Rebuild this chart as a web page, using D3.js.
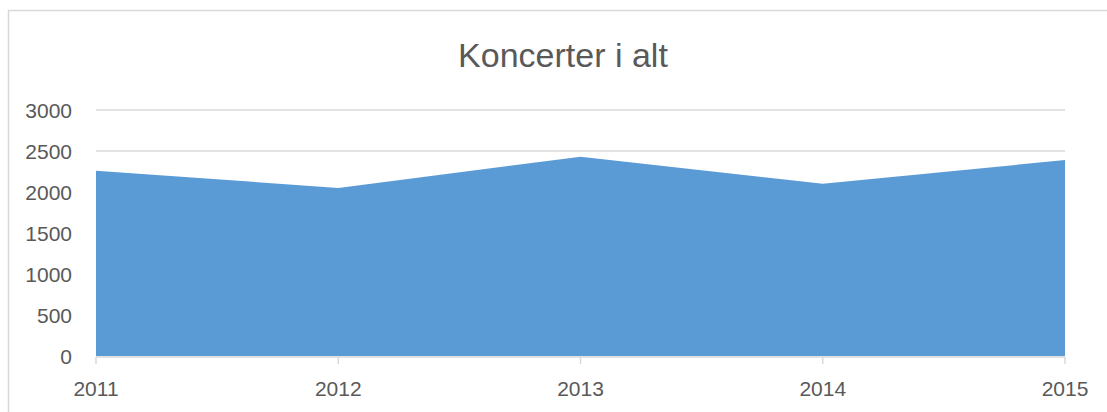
<!DOCTYPE html>
<html>
<head>
<meta charset="utf-8">
<script src="https://cdn.jsdelivr.net/npm/d3@7"></script>
<style>
  body { margin: 0; background: #fff; }
  svg { display: block; font-family: "Liberation Sans", Arial, sans-serif; }
</style>
</head>
<body>
<div id="chart"></div>
<script>
// data
var years = ["2011", "2012", "2013", "2014", "2015"];
var koncerter = [2260, 2050, 2430, 2100, 2390];
var yTicks = [0, 500, 1000, 1500, 2000, 2500, 3000];
var title = "Koncerter i alt";

var data = years.map(function(y, i) { return { year: y, value: koncerter[i] }; });

var width = 1107, height = 412;
var margin = { top: 110, right: 42, bottom: 56, left: 96 };

var svg = d3.select("#chart")
  .append("svg")
  .attr("width", width)
  .attr("height", height);

// chart frame
svg.append("rect")
  .attr("x", 8.5).attr("y", 10.5)
  .attr("width", width + 10).attr("height", height + 10)
  .attr("fill", "none")
  .attr("stroke", "#d9d9d9")
  .attr("stroke-width", 1.5);

var x = d3.scalePoint()
  .domain(years)
  .range([margin.left, width - margin.right]);

var y = d3.scaleLinear()
  .domain([0, 3000])
  .range([height - margin.bottom, margin.top]);

// gridlines
svg.append("g")
  .selectAll("line")
  .data(yTicks.filter(function(d) { return d > 0; }))
  .join("line")
  .attr("x1", margin.left)
  .attr("x2", width - margin.right)
  .attr("y1", function(d) { return y(d); })
  .attr("y2", function(d) { return y(d); })
  .attr("stroke", "#d9d9d9")
  .attr("stroke-width", 1.5);

// area
var area = d3.area()
  .x(function(d) { return x(d.year); })
  .y0(y(0))
  .y1(function(d) { return y(d.value); });

svg.append("path")
  .datum(data)
  .attr("fill", "#5b9bd5")
  .attr("d", area);

// x axis line + ticks
svg.append("line")
  .attr("x1", margin.left).attr("x2", width - margin.right)
  .attr("y1", y(0) + 1).attr("y2", y(0) + 1)
  .attr("stroke", "#d9d9d9").attr("stroke-width", 1.5);

svg.append("g")
  .selectAll("line")
  .data(years)
  .join("line")
  .attr("x1", function(d) { return x(d); })
  .attr("x2", function(d) { return x(d); })
  .attr("y1", y(0) + 1)
  .attr("y2", y(0) + 8)
  .attr("stroke", "#d9d9d9")
  .attr("stroke-width", 1.5);

// y labels
svg.append("g")
  .selectAll("text")
  .data(yTicks)
  .join("text")
  .attr("x", 72)
  .attr("y", function(d) { return y(d); })
  .attr("dy", "0.36em")
  .attr("text-anchor", "end")
  .attr("fill", "#595959")
  .style("font-size", "21px")
  .text(function(d) { return d; });

// x labels
svg.append("g")
  .selectAll("text")
  .data(years)
  .join("text")
  .attr("x", function(d) { return x(d); })
  .attr("y", 396)
  .attr("text-anchor", "middle")
  .attr("fill", "#595959")
  .style("font-size", "21px")
  .text(function(d) { return d; });

// title
svg.append("text")
  .attr("x", 563)
  .attr("y", 67)
  .attr("text-anchor", "middle")
  .attr("fill", "#595959")
  .style("font-size", "34px")
  .text(title);
</script>
</body>
</html>
